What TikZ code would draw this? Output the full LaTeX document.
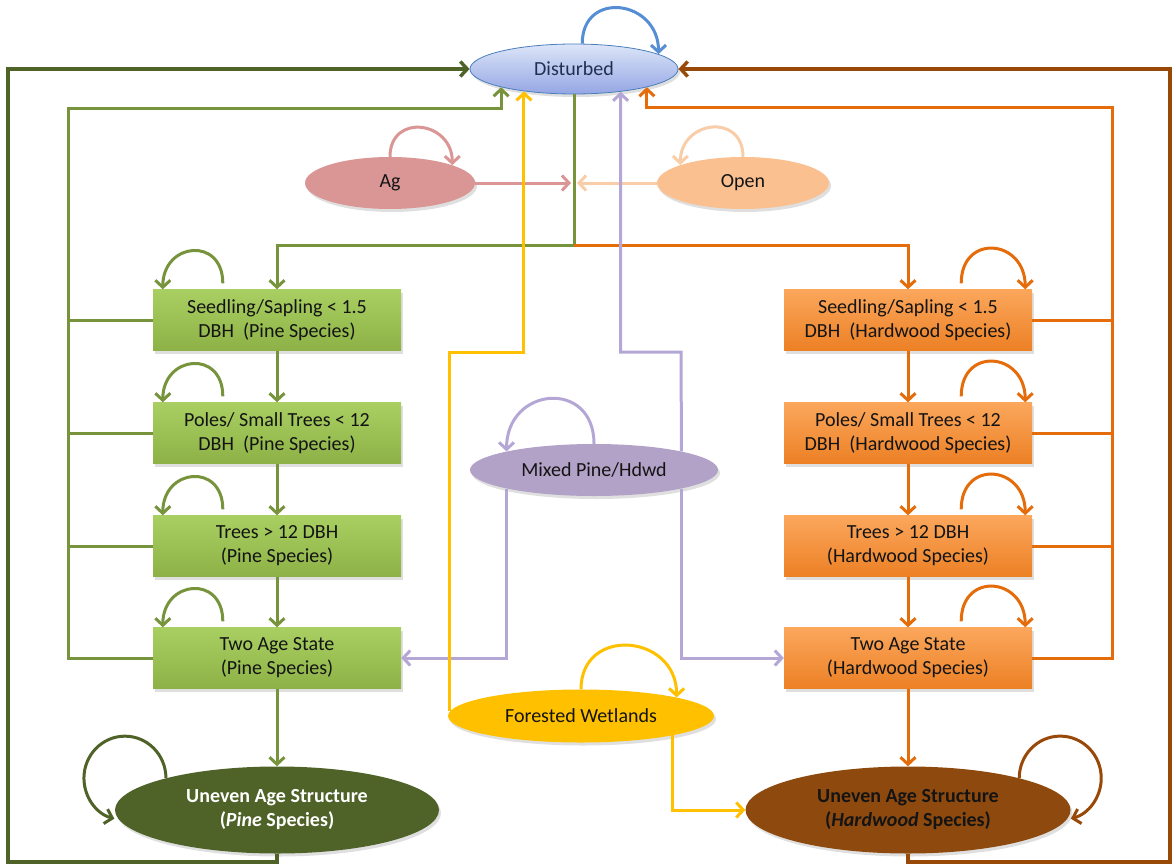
\documentclass[tikz,border=0pt]{standalone}
\usepackage{fontspec}
\setmainfont{Carlito}
\usetikzlibrary{arrows.meta,shapes.geometric,shadows}
\definecolor{pineline}{HTML}{77933C}
\definecolor{dkgreen}{HTML}{4F6228}
\definecolor{orline}{HTML}{E46C0A}
\definecolor{dkbrown}{HTML}{984807}
\definecolor{pinetop}{HTML}{A9CF62}
\definecolor{pinebot}{HTML}{8DB146}
\definecolor{hwtop}{HTML}{FBA75C}
\definecolor{hwbot}{HTML}{EC8025}
\definecolor{agcol}{HTML}{D99694}
\definecolor{opencol}{HTML}{FAC090}
\definecolor{openline}{HTML}{F9CDA8}
\definecolor{mixcol}{HTML}{B3A2C7}
\definecolor{mixline}{HTML}{B4A7D6}
\definecolor{fwcol}{HTML}{FFC000}
\definecolor{distop}{HTML}{DCE5F8}
\definecolor{disbot}{HTML}{94A6E4}
\definecolor{disdraw}{HTML}{4A7EBB}
\definecolor{loopblue}{HTML}{558ED5}
\definecolor{uhfill}{HTML}{8E4A0E}
\definecolor{txt}{HTML}{141414}
\definecolor{distxt}{HTML}{1F2F4F}
\begin{document}
\begin{tikzpicture}[x=1pt,y=1pt,
  font=\fontsize{20}{24}\selectfont,
  shad/.style={drop shadow={opacity=0.25,shadow xshift=2pt,shadow yshift=-3pt}},
  box/.style={rectangle,minimum width=248pt,minimum height=61pt,inner sep=0pt,align=center,text=txt,shad},
  pinebox/.style={box,top color=pinetop,bottom color=pinebot},
  hwbox/.style={box,top color=hwtop,bottom color=hwbot},
  ell/.style={ellipse,inner sep=0pt,align=center,text=txt,shad},
  arr/.style={-{Straight Barb[length=7pt,width=15pt]}},
  ln/.style={line width=3pt},
  pline/.style={ln,draw=pineline},
  oline/.style={ln,draw=orline},
  dkg/.style={line width=3.4pt,draw=dkgreen},
  dkb/.style={line width=3.4pt,draw=dkbrown},
  lav/.style={ln,draw=mixline},
  yel/.style={ln,draw=fwcol},
]
\useasboundingbox (0,0) rectangle (1172,-867);

% nodes
\node[ell,minimum width=208pt,minimum height=50pt,top color=distop,bottom color=disbot,draw=disdraw,line width=0.8pt,text=distxt] (D) at (574,-69) {Disturbed};
\node[ell,minimum width=170pt,minimum height=52pt,fill=agcol] (Ag) at (390,-183) {Ag};
\node[ell,minimum width=172pt,minimum height=52pt,fill=opencol] (Op) at (743,-183) {Open};

\node[pinebox] (P1) at (277,-320) {Seedling/Sapling < 1.5\\DBH\ \ (Pine Species)};
\node[pinebox] (P2) at (277,-433) {Poles/ Small Trees < 12\\DBH\ \ (Pine Species)};
\node[pinebox] (P3) at (277,-546) {Trees > 12 DBH\\(Pine Species)};
\node[pinebox] (P4) at (277,-658) {Two\ Age State\\(Pine Species)};

\node[hwbox] (H1) at (908,-320) {Seedling/Sapling < 1.5\\DBH\ \ (Hardwood\ Species)};
\node[hwbox] (H2) at (908,-433) {Poles/ Small Trees < 12\\DBH\ \ (Hardwood\ Species)};
\node[hwbox] (H3) at (908,-546) {Trees > 12 DBH\\(Hardwood\ Species)};
\node[hwbox] (H4) at (908,-658) {Two\ Age State\\(Hardwood\ Species)};

\node[ell,minimum width=248pt,minimum height=52pt,fill=mixcol] (Mx) at (594,-470) {Mixed Pine/Hdwd};
\node[ell,minimum width=266pt,minimum height=53pt,fill=fwcol] (FW) at (581,-716) {Forested Wetlands};
\node[ell,minimum width=324pt,minimum height=87pt,fill=dkgreen,text=white,font=\fontsize{20}{24}\selectfont\bfseries] (UP) at (277,-810) {Uneven Age Structure\\(\textit{Pine} Species)};
\node[ell,minimum width=325pt,minimum height=87pt,fill=uhfill,text=txt,font=\fontsize{20}{24}\selectfont\bfseries] (UH) at (908,-810) {Uneven Age Structure\\(\textit{Hardwood}\ Species)};

% coordinates
\coordinate (split) at (574,-245);
\coordinate (agend) at (571,-183);
\coordinate (opend) at (577,-183);
\coordinate (gbus) at (68,-108);
\coordinate (obus) at (1112,-107);
\coordinate (bl) at (8,-862);
\coordinate (br) at (1170,-862);
\coordinate (lb) at (681,-352);
\coordinate (yb) at (525,-352);

% outer returns
\draw[dkg,arr] (UP.south) |- (bl) |- (D.west);
\draw[dkb,arr] (UH.south) |- (br) |- (D.east);

% pine bus
\draw[pline,arr] (P4.west) -| (gbus) -| (D.194);
\foreach \n in {P1,P2,P3} \draw[pline] (\n.west) -- (\n.west -| gbus);
% hardwood bus
\draw[oline,arr] (H4.east) -| (obus) -| (D.346);
\foreach \n in {H1,H2,H3} \draw[oline] (\n.east) -- (\n.east -| obus);

% disturbed down
\draw[pline] (D.south) -- (split);
\draw[pline,arr] (split) -| (P1.north);
\draw[oline,arr] (split) -| (H1.north);

% Ag / Open
\draw[ln,draw=agcol,arr] (Ag.east) -- (agend);
\draw[ln,draw=openline,arr] (Op.west) -- (opend);

% chains
\draw[pline,arr] (P1.south) -- (P2.north);
\draw[pline,arr] (P2.south) -- (P3.north);
\draw[pline,arr] (P3.south) -- (P4.north);
\draw[pline,arr] (P4.south) -- (UP.north);
\draw[oline,arr] (H1.south) -- (H2.north);
\draw[oline,arr] (H2.south) -- (H3.north);
\draw[oline,arr] (H3.south) -- (H4.north);
\draw[oline,arr] (H4.south) -- (UH.north);

% self loops
\draw[ln,draw=loopblue,arr] (D.72) to[out=90,in=90,looseness=1.8] (D.10);
\draw[ln,draw=agcol,arr] (Ag.north) to[out=90,in=90,looseness=1.8] (Ag.16);
\draw[ln,draw=openline,arr] (Op.north) to[out=90,in=90,looseness=1.8] (Op.164);
\draw[lav,arr] (Mx.north) to[out=90,in=90,looseness=1.9] (Mx.168);
\draw[yel,arr] (FW.north) to[out=90,in=90,looseness=1.7] (FW.11);
\foreach \n in {P1,P2,P3,P4}
  \draw[pline,arr] ([xshift=70pt,yshift=6pt]\n.north west) to[out=90,in=90,looseness=2] ([xshift=10pt]\n.north west);
\foreach \n in {H1,H2,H3,H4}
  \draw[oline,arr] ([xshift=-71pt,yshift=6pt]\n.north east) to[out=90,in=90,looseness=2] ([xshift=-7pt]\n.north east);
\draw[dkg,line width=3pt,arr] (UP.164) arc[start angle=0,end angle=255,x radius=41pt,y radius=42pt];
\draw[dkb,line width=3pt,arr] (UH.16) arc[start angle=180,end angle=-75,x radius=41pt,y radius=42pt];

% lavender
\draw[lav,arr] (Mx.192) |- (P4.east);
\draw[lav,arr] (Mx.-12) |- (H4.west);
\draw[lav,arr] (Mx.12) -- (lb) -| (D.334);

% yellow
\draw[yel,arr] (FW.178) |- (yb) -| (D.204);
\draw[yel,arr] (FW.-12) |- (UH.west);
\end{tikzpicture}
\end{document}
